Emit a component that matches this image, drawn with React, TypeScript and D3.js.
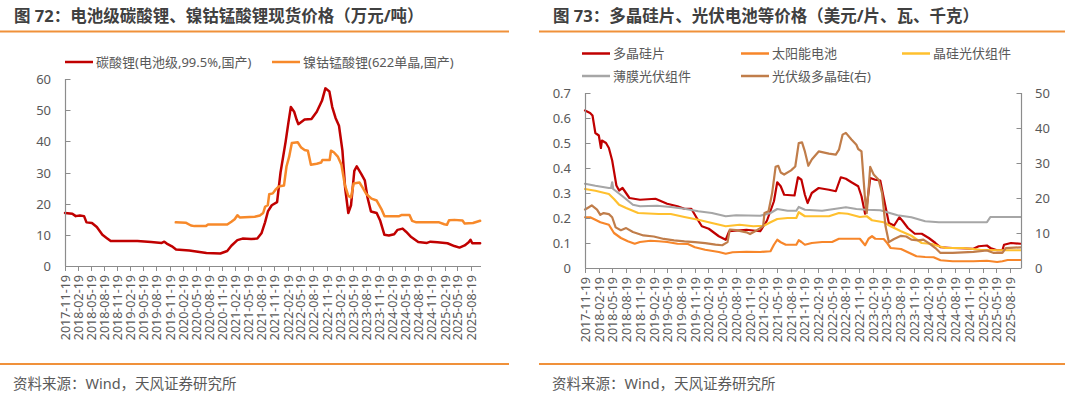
import React, { useRef, useEffect } from "react";
import * as d3 from "d3";

type Pt = [string, number];

// ---- 图72 data (万元/吨) ----
const lithiumCarbonate: Pt[] = [
  ["2017-11-19", 17], ["2018-01-09", 16.8], ["2018-02-02", 16], ["2018-03-03", 16.2], ["2018-04-01", 16],
  ["2018-04-18", 14], ["2018-05-26", 13.8], ["2018-06-29", 12.5], ["2018-08-07", 10], ["2018-09-05", 9],
  ["2018-10-04", 8], ["2019-04-08", 8], ["2019-07-13", 7.7], ["2019-09-25", 7.4], ["2019-10-13", 7.8],
  ["2019-10-30", 7.2], ["2019-12-05", 6.3], ["2020-01-03", 5.3], ["2020-04-04", 5], ["2020-08-02", 4.2],
  ["2020-11-07", 4], ["2020-12-25", 4.8], ["2021-01-23", 6.5], ["2021-03-06", 8.3], ["2021-04-11", 8.8],
  ["2021-06-10", 8.7], ["2021-07-23", 8.8], ["2021-08-21", 10.5], ["2021-09-15", 14], ["2021-10-05", 17.5],
  ["2021-11-01", 19.5], ["2021-12-08", 20.5], ["2022-01-01", 30], ["2022-02-06", 40], ["2022-02-25", 46],
  ["2022-03-14", 51], ["2022-04-06", 49.5], ["2022-04-23", 47], ["2022-05-05", 45.5], ["2022-06-18", 47],
  ["2022-08-05", 47.2], ["2022-09-11", 49.5], ["2022-10-17", 53], ["2022-11-10", 57], ["2022-12-08", 56],
  ["2022-12-28", 51], ["2023-01-20", 47.5], ["2023-02-13", 45], ["2023-03-09", 37], ["2023-03-28", 25],
  ["2023-04-19", 17], ["2023-05-08", 19.5], ["2023-05-31", 30.5], ["2023-06-17", 32], ["2023-07-19", 29.5],
  ["2023-08-12", 27.5], ["2023-08-31", 22], ["2023-09-24", 17.5], ["2023-11-03", 17], ["2023-11-28", 14.5],
  ["2023-12-27", 10], ["2024-01-27", 9.8], ["2024-03-04", 10.2], ["2024-03-28", 11.6], ["2024-05-02", 12],
  ["2024-05-26", 11], ["2024-07-01", 9.3], ["2024-08-19", 7.7], ["2024-10-19", 7.4], ["2024-11-12", 7.8],
  ["2024-12-31", 7.6], ["2025-03-11", 7.3], ["2025-04-28", 6.4], ["2025-06-03", 5.9], ["2025-07-09", 6.6],
  ["2025-08-06", 7.6], ["2025-08-19", 8.4], ["2025-08-31", 7.3], ["2025-10-25", 7.3],
];

const ncm622: Pt[] = [
  ["2020-01-01", 14], ["2020-03-10", 13.9], ["2020-04-16", 13], ["2020-05-10", 12.8], ["2020-07-28", 12.8],
  ["2020-08-13", 13.3], ["2020-12-25", 13.3], ["2021-01-23", 14.2], ["2021-02-15", 15], ["2021-03-06", 16.3],
  ["2021-03-22", 15.6], ["2021-07-05", 15.8], ["2021-08-10", 16.2], ["2021-09-02", 17], ["2021-09-15", 19],
  ["2021-10-04", 19.5], ["2021-10-14", 23], ["2021-11-08", 23.3], ["2021-11-27", 24.5], ["2021-12-19", 25.5],
  ["2022-01-25", 25.8], ["2022-02-12", 32], ["2022-03-02", 35], ["2022-03-21", 39.5], ["2022-05-01", 39.7],
  ["2022-05-25", 38], ["2022-06-18", 37.2], ["2022-07-11", 37], ["2022-08-01", 32.5], ["2022-09-11", 32.8],
  ["2022-10-12", 33.2], ["2022-10-20", 34], ["2022-12-10", 34], ["2022-12-19", 37], ["2023-01-08", 36.5],
  ["2023-02-06", 35], ["2023-03-02", 32.5], ["2023-03-26", 26], ["2023-04-19", 22.5], ["2023-05-08", 22],
  ["2023-05-26", 26.5], ["2023-07-06", 26.8], ["2023-07-30", 25], ["2023-08-24", 23], ["2023-09-28", 21.6],
  ["2023-11-03", 21], ["2023-12-09", 18], ["2023-12-28", 16], ["2024-04-08", 16], ["2024-04-27", 16.4],
  ["2024-06-19", 16.4], ["2024-07-07", 14.5], ["2024-08-06", 14], ["2025-01-12", 14], ["2025-02-17", 13.4],
  ["2025-03-07", 13.2], ["2025-03-22", 14.7], ["2025-04-28", 14.8], ["2025-06-24", 14.6], ["2025-07-09", 13.6],
  ["2025-09-05", 13.8], ["2025-10-25", 14.5],
];

// ---- 图73 data (美元/片、瓦；右轴 美元/千克) ----
const wafer: Pt[] = [
  ["2017-11-19", 0.63], ["2017-12-23", 0.62], ["2018-01-08", 0.61], ["2018-01-27", 0.54], ["2018-02-19", 0.53],
  ["2018-03-05", 0.48], ["2018-03-12", 0.51], ["2018-04-08", 0.5], ["2018-04-27", 0.48], ["2018-05-19", 0.43],
  ["2018-06-16", 0.33], ["2018-07-04", 0.31], ["2018-07-27", 0.32], ["2018-09-11", 0.28], ["2018-11-20", 0.273],
  ["2019-03-03", 0.277], ["2019-05-20", 0.257], ["2019-07-28", 0.247], ["2019-09-12", 0.237], ["2019-10-28", 0.237],
  ["2019-12-13", 0.19], ["2020-01-06", 0.167], ["2020-02-21", 0.157], ["2020-04-28", 0.127], ["2020-06-13", 0.113],
  ["2020-07-06", 0.147], ["2020-10-29", 0.153], ["2021-01-29", 0.147], ["2021-03-15", 0.19], ["2021-04-30", 0.267],
  ["2021-05-22", 0.343], ["2021-06-14", 0.327], ["2021-07-07", 0.293], ["2021-09-14", 0.29], ["2021-10-07", 0.363],
  ["2021-10-30", 0.353], ["2021-11-22", 0.293], ["2021-12-10", 0.26], ["2022-01-07", 0.3], ["2022-02-22", 0.32],
  ["2022-05-01", 0.313], ["2022-06-16", 0.307], ["2022-07-19", 0.363], ["2022-08-22", 0.357], ["2022-09-28", 0.343],
  ["2022-11-12", 0.327], ["2022-12-04", 0.287], ["2022-12-28", 0.217], ["2023-01-08", 0.247], ["2023-01-31", 0.36],
  ["2023-03-06", 0.353], ["2023-04-08", 0.35], ["2023-05-01", 0.28], ["2023-06-04", 0.18], ["2023-07-09", 0.17],
  ["2023-08-13", 0.203], ["2023-09-05", 0.187], ["2023-10-09", 0.16], ["2023-11-24", 0.137], ["2024-01-09", 0.137],
  ["2024-02-25", 0.12], ["2024-04-09", 0.1], ["2024-05-13", 0.083], ["2024-08-02", 0.08], ["2024-12-18", 0.077],
  ["2025-01-22", 0.087], ["2025-03-18", 0.09], ["2025-04-10", 0.08], ["2025-05-25", 0.071], ["2025-06-29", 0.071],
  ["2025-07-10", 0.093], ["2025-08-25", 0.1], ["2025-10-28", 0.097],
];

const solarCell: Pt[] = [
  ["2017-11-19", 0.203], ["2017-12-23", 0.203], ["2018-01-27", 0.193], ["2018-03-01", 0.183], ["2018-04-27", 0.173],
  ["2018-05-31", 0.14], ["2018-07-16", 0.12], ["2018-08-31", 0.107], ["2018-10-16", 0.097], ["2018-11-20", 0.104],
  ["2019-01-28", 0.109], ["2019-03-24", 0.107], ["2019-05-20", 0.104], ["2019-07-28", 0.097], ["2019-10-05", 0.096],
  ["2019-11-21", 0.083], ["2020-01-28", 0.073], ["2020-04-28", 0.064], ["2020-06-13", 0.057], ["2020-07-29", 0.063],
  ["2020-10-29", 0.065], ["2021-01-29", 0.064], ["2021-04-07", 0.067], ["2021-04-30", 0.093], ["2021-05-22", 0.113],
  ["2021-06-14", 0.103], ["2021-07-18", 0.093], ["2021-09-26", 0.093], ["2021-10-12", 0.111], ["2021-10-30", 0.104],
  ["2021-11-22", 0.093], ["2022-01-07", 0.1], ["2022-03-17", 0.104], ["2022-05-22", 0.104], ["2022-07-07", 0.117],
  ["2022-11-23", 0.117], ["2022-12-28", 0.091], ["2023-01-20", 0.117], ["2023-02-12", 0.127], ["2023-03-06", 0.117],
  ["2023-05-01", 0.116], ["2023-05-24", 0.1], ["2023-06-16", 0.08], ["2023-08-24", 0.076], ["2023-10-09", 0.063],
  ["2023-12-05", 0.047], ["2024-02-01", 0.044], ["2024-03-28", 0.043], ["2024-05-13", 0.031], ["2024-08-02", 0.027],
  ["2024-12-18", 0.027], ["2025-03-18", 0.029], ["2025-05-25", 0.024], ["2025-06-29", 0.027], ["2025-08-03", 0.032],
  ["2025-10-28", 0.032],
];

const crystallineModule: Pt[] = [
  ["2017-11-19", 0.316], ["2018-01-27", 0.309], ["2018-04-27", 0.296], ["2018-05-31", 0.276], ["2018-07-04", 0.253],
  ["2018-08-20", 0.24], ["2018-11-08", 0.22], ["2019-03-24", 0.216], ["2019-06-13", 0.216], ["2019-09-12", 0.204],
  ["2019-12-13", 0.193], ["2020-03-13", 0.18], ["2020-06-13", 0.167], ["2020-09-13", 0.173], ["2020-12-14", 0.167],
  ["2021-02-21", 0.169], ["2021-04-07", 0.183], ["2021-05-22", 0.196], ["2021-07-30", 0.2], ["2021-09-26", 0.2],
  ["2021-10-12", 0.223], ["2021-11-22", 0.207], ["2022-05-01", 0.207], ["2022-07-07", 0.22], ["2022-09-03", 0.217],
  ["2022-11-23", 0.204], ["2023-01-08", 0.207], ["2023-02-12", 0.191], ["2023-05-01", 0.183], ["2023-06-16", 0.167],
  ["2023-08-24", 0.147], ["2023-11-01", 0.129], ["2024-01-09", 0.1], ["2024-03-17", 0.096], ["2024-05-02", 0.087],
  ["2024-06-17", 0.08], ["2024-10-10", 0.08], ["2025-02-02", 0.073], ["2025-05-25", 0.071], ["2025-10-28", 0.071],
];

const thinFilmModule: Pt[] = [
  ["2017-11-19", 0.337], ["2018-01-27", 0.329], ["2018-04-27", 0.32], ["2018-05-12", 0.32], ["2018-05-19", 0.343],
  ["2018-05-26", 0.316], ["2018-07-27", 0.287], ["2018-10-04", 0.253], ["2018-11-20", 0.247], ["2019-03-14", 0.249],
  ["2019-06-13", 0.244], ["2019-09-12", 0.237], ["2019-12-13", 0.227], ["2020-03-13", 0.22], ["2020-06-13", 0.207],
  ["2020-08-21", 0.211], ["2021-01-29", 0.209], ["2021-04-07", 0.22], ["2021-05-22", 0.236], ["2021-07-30", 0.229],
  ["2021-09-26", 0.229], ["2021-10-12", 0.244], ["2021-11-22", 0.233], ["2022-03-17", 0.229], ["2022-06-16", 0.237],
  ["2022-08-22", 0.243], ["2022-10-31", 0.236], ["2023-01-08", 0.233], ["2023-04-08", 0.231], ["2023-05-24", 0.223],
  ["2023-08-01", 0.211], ["2023-11-01", 0.203], ["2024-02-01", 0.187], ["2024-05-02", 0.183], ["2025-03-18", 0.183],
  ["2025-04-10", 0.204], ["2025-10-28", 0.204],
];

const polysilicon: Pt[] = [
  ["2017-11-19", 16.7], ["2017-12-12", 17.3], ["2018-01-03", 17.9], ["2018-02-07", 16.7], ["2018-03-01", 15.2],
  ["2018-03-23", 15.7], ["2018-04-27", 15.4], ["2018-05-19", 14.5], ["2018-06-11", 11.6], ["2018-07-16", 10.8],
  ["2018-08-20", 11.4], ["2018-10-04", 10.3], ["2018-12-13", 9.3], ["2019-02-20", 9.0], ["2019-04-28", 8.3],
  ["2019-07-05", 7.9], ["2019-09-12", 7.6], ["2019-11-21", 7.4], ["2020-01-28", 7.1], ["2020-04-06", 6.7],
  ["2020-05-21", 6.5], ["2020-06-25", 7.4], ["2020-07-10", 11], ["2020-08-21", 10.8], ["2020-10-29", 10.2],
  ["2020-11-22", 9.7], ["2021-01-06", 10.8], ["2021-02-17", 11.9], ["2021-02-26", 15.7], ["2021-03-25", 16.2],
  ["2021-04-18", 21.4], ["2021-05-11", 28.9], ["2021-05-29", 29.2], ["2021-06-14", 27.3], ["2021-07-07", 26.7],
  ["2021-08-22", 27.9], ["2021-09-19", 29], ["2021-10-12", 35.7], ["2021-11-03", 35.9], ["2021-11-22", 33.3],
  ["2021-12-15", 29.2], ["2022-01-07", 31], ["2022-02-22", 33.3], ["2022-05-01", 32.7], ["2022-06-16", 32.4],
  ["2022-07-07", 33.8], ["2022-07-31", 38.1], ["2022-08-22", 38.6], ["2022-09-28", 36.7], ["2022-10-31", 35.2],
  ["2022-11-12", 34], ["2022-12-04", 33.3], ["2022-12-28", 19.5], ["2023-01-08", 15.7], ["2023-01-20", 22.4],
  ["2023-01-31", 28.9], ["2023-02-23", 26.7], ["2023-03-28", 25.2], ["2023-04-20", 21.4], ["2023-05-13", 11.9],
  ["2023-06-04", 7.4], ["2023-07-09", 8.3], ["2023-08-24", 9.2], ["2023-09-28", 9.0], ["2023-11-01", 8.1],
  ["2023-12-17", 7.9], ["2024-01-20", 8.1], ["2024-02-25", 7.1], ["2024-04-09", 5.7], ["2024-05-13", 4.3],
  ["2024-08-02", 4.3], ["2024-12-18", 4.6], ["2025-03-18", 5.0], ["2025-05-03", 4.3], ["2025-06-29", 4.3],
  ["2025-07-22", 5.7], ["2025-10-28", 5.9],
];

// ---- axes ----
const xTickLabels = [
  "2017-11-19", "2018-02-19", "2018-05-19", "2018-08-19", "2018-11-19", "2019-02-19", "2019-05-19", "2019-08-19",
  "2019-11-19", "2020-02-19", "2020-05-19", "2020-08-19", "2020-11-19", "2021-02-19", "2021-05-19", "2021-08-19",
  "2021-11-19", "2022-02-19", "2022-05-19", "2022-08-19", "2022-11-19", "2023-02-19", "2023-05-19", "2023-08-19",
  "2023-11-19", "2024-02-19", "2024-05-19", "2024-08-19", "2024-11-19", "2025-02-19", "2025-05-19", "2025-08-19",
];
const xDomain = ["2017-11-19", "2025-10-31"];
const leftYTicks = [0, 10, 20, 30, 40, 50, 60];
const pvYTicks = [0, 0.1, 0.2, 0.3, 0.4, 0.5, 0.6, 0.7];
const pvRightTicks = [0, 10, 20, 30, 40, 50];

const FONT = "'Noto Sans', 'Noto Sans CJK SC', sans-serif";
const AXIS = "#8c8c8c";
const TEXT = "#595959";
const RULE = "#f0913a";

const parse = d3.timeParse("%Y-%m-%d");

function drawXAxis(g, x, y0) {
  const [a, b] = x.range();
  g.append("line").attr("x1", a).attr("x2", b).attr("y1", y0 + 0.5).attr("y2", y0 + 0.5)
    .attr("stroke", AXIS).attr("stroke-width", 1.2);
  xTickLabels.forEach((s) => {
    const px = Math.round(x(parse(s))) + 0.5;
    g.append("line").attr("x1", px).attr("x2", px).attr("y1", y0).attr("y2", y0 + 5)
      .attr("stroke", AXIS).attr("stroke-width", 1);
    g.append("text")
      .attr("transform", `translate(${px},${y0 + 9}) rotate(-90)`)
      .attr("text-anchor", "end").attr("dy", "0.35em")
      .attr("font-size", 12.5).attr("fill", TEXT).text(s);
  });
}

function drawYAxis(g, y, px, ticks, side, fmt) {
  const [b, t] = y.range();
  g.append("line").attr("x1", px + 0.5).attr("x2", px + 0.5).attr("y1", t).attr("y2", b)
    .attr("stroke", AXIS).attr("stroke-width", 1.2);
  const dir = side === "left" ? 1 : -1;
  ticks.forEach((v) => {
    const py = Math.round(y(v)) + 0.5;
    g.append("line").attr("x1", px + 0.5).attr("x2", px + 0.5 + dir * 5).attr("y1", py).attr("y2", py)
      .attr("stroke", AXIS).attr("stroke-width", 1);
    g.append("text")
      .attr("x", px - dir * 14).attr("y", py).attr("dy", "0.35em")
      .attr("text-anchor", side === "left" ? "end" : "start")
      .attr("font-size", 13).attr("fill", TEXT).text(fmt(v));
  });
}

function drawSeries(g, data, x, y, color, width = 2.3) {
  const line = d3.line<Pt>().x((d) => x(parse(d[0]))).y((d) => y(d[1]));
  g.append("path").attr("d", line(data)).attr("fill", "none").attr("stroke", color)
    .attr("stroke-width", width).attr("stroke-linejoin", "round").attr("stroke-linecap", "round");
}

function drawLegend(g, items) {
  items.forEach(({ label, color, x, y }) => {
    g.append("line").attr("x1", x).attr("x2", x + 28).attr("y1", y).attr("y2", y)
      .attr("stroke", color).attr("stroke-width", 2.5);
    g.append("text").attr("x", x + 31).attr("y", y).attr("dy", "0.36em")
      .attr("font-size", 13).attr("fill", TEXT).text(label);
  });
}

function drawFrame(g, title, x0, x1) {
  g.append("text").attr("x", x0 + 14).attr("y", 22).attr("font-size", 16.5).attr("font-weight", 700)
    .attr("fill", "#404040").text(title);
  g.append("line").attr("x1", x0).attr("x2", x1).attr("y1", 31.5).attr("y2", 31.5)
    .attr("stroke", RULE).attr("stroke-width", 2);
  g.append("line").attr("x1", x0).attr("x2", x1).attr("y1", 364).attr("y2", 364)
    .attr("stroke", RULE).attr("stroke-width", 2);
  g.append("text").attr("x", x0 + 13).attr("y", 389).attr("font-size", 14.5).attr("fill", TEXT)
    .text("资料来源：Wind，天风证券研究所");
}

export default function App() {
  const ref = useRef<SVGSVGElement>(null);

  useEffect(() => {
    const svg = d3.select(ref.current);
    svg.selectAll("*").remove();
    const domain = xDomain.map((s) => parse(s));

    // 图72
    const left = svg.append("g");
    drawFrame(left, "图 72：电池级碳酸锂、镍钴锰酸锂现货价格（万元/吨）", 0, 509);
    const x1 = d3.scaleTime().domain(domain).range([65, 481]);
    const y1 = d3.scaleLinear().domain([0, 60]).range([266, 79]);
    drawSeries(left, lithiumCarbonate, x1, y1, "#c00000", 2.5);
    drawSeries(left, ncm622, x1, y1, "#f7892a", 2.5);
    drawYAxis(left, y1, 65, leftYTicks, "left", (v) => String(v));
    drawXAxis(left, x1, 266);
    drawLegend(left, [
      { label: "碳酸锂(电池级,99.5%,国产)", color: "#c00000", x: 65, y: 62 },
      { label: "镍钴锰酸锂(622单晶,国产)", color: "#f7892a", x: 272, y: 62 },
    ]);

    // 图73
    const right = svg.append("g");
    drawFrame(right, "图 73：多晶硅片、光伏电池等价格（美元/片、瓦、千克）", 539, 1065);
    const x2 = d3.scaleTime().domain(domain).range([585, 1021]);
    const y2 = d3.scaleLinear().domain([0, 0.7]).range([268, 93]);
    const y2r = d3.scaleLinear().domain([0, 50]).range([268, 93]);
    drawSeries(right, wafer, x2, y2, "#c00000", 2.2);
    drawSeries(right, solarCell, x2, y2, "#f7862a", 2.2);
    drawSeries(right, crystallineModule, x2, y2, "#ffc02e", 2.2);
    drawSeries(right, thinFilmModule, x2, y2, "#a6a6a6", 2.2);
    drawSeries(right, polysilicon, x2, y2r, "#c07d4a", 2.2);
    drawYAxis(right, y2, 585, pvYTicks, "left", (v) => d3.format("~g")(v));
    drawYAxis(right, y2r, 1021, pvRightTicks, "right", (v) => String(v));
    drawXAxis(right, x2, 268);
    drawLegend(right, [
      { label: "多晶硅片", color: "#c00000", x: 582, y: 53.5 },
      { label: "太阳能电池", color: "#f7862a", x: 741, y: 53.5 },
      { label: "晶硅光伏组件", color: "#ffc02e", x: 902, y: 53.5 },
      { label: "薄膜光伏组件", color: "#a6a6a6", x: 582, y: 76 },
      { label: "光伏级多晶硅(右)", color: "#c07d4a", x: 741, y: 76 },
    ]);
  }, []);

  return (
    <div>
      <style>{"body{margin:0;background:#fff}"}</style>
      <svg ref={ref} width={1080} height={397} style={{ display: "block", fontFamily: FONT }} />
    </div>
  );
}
